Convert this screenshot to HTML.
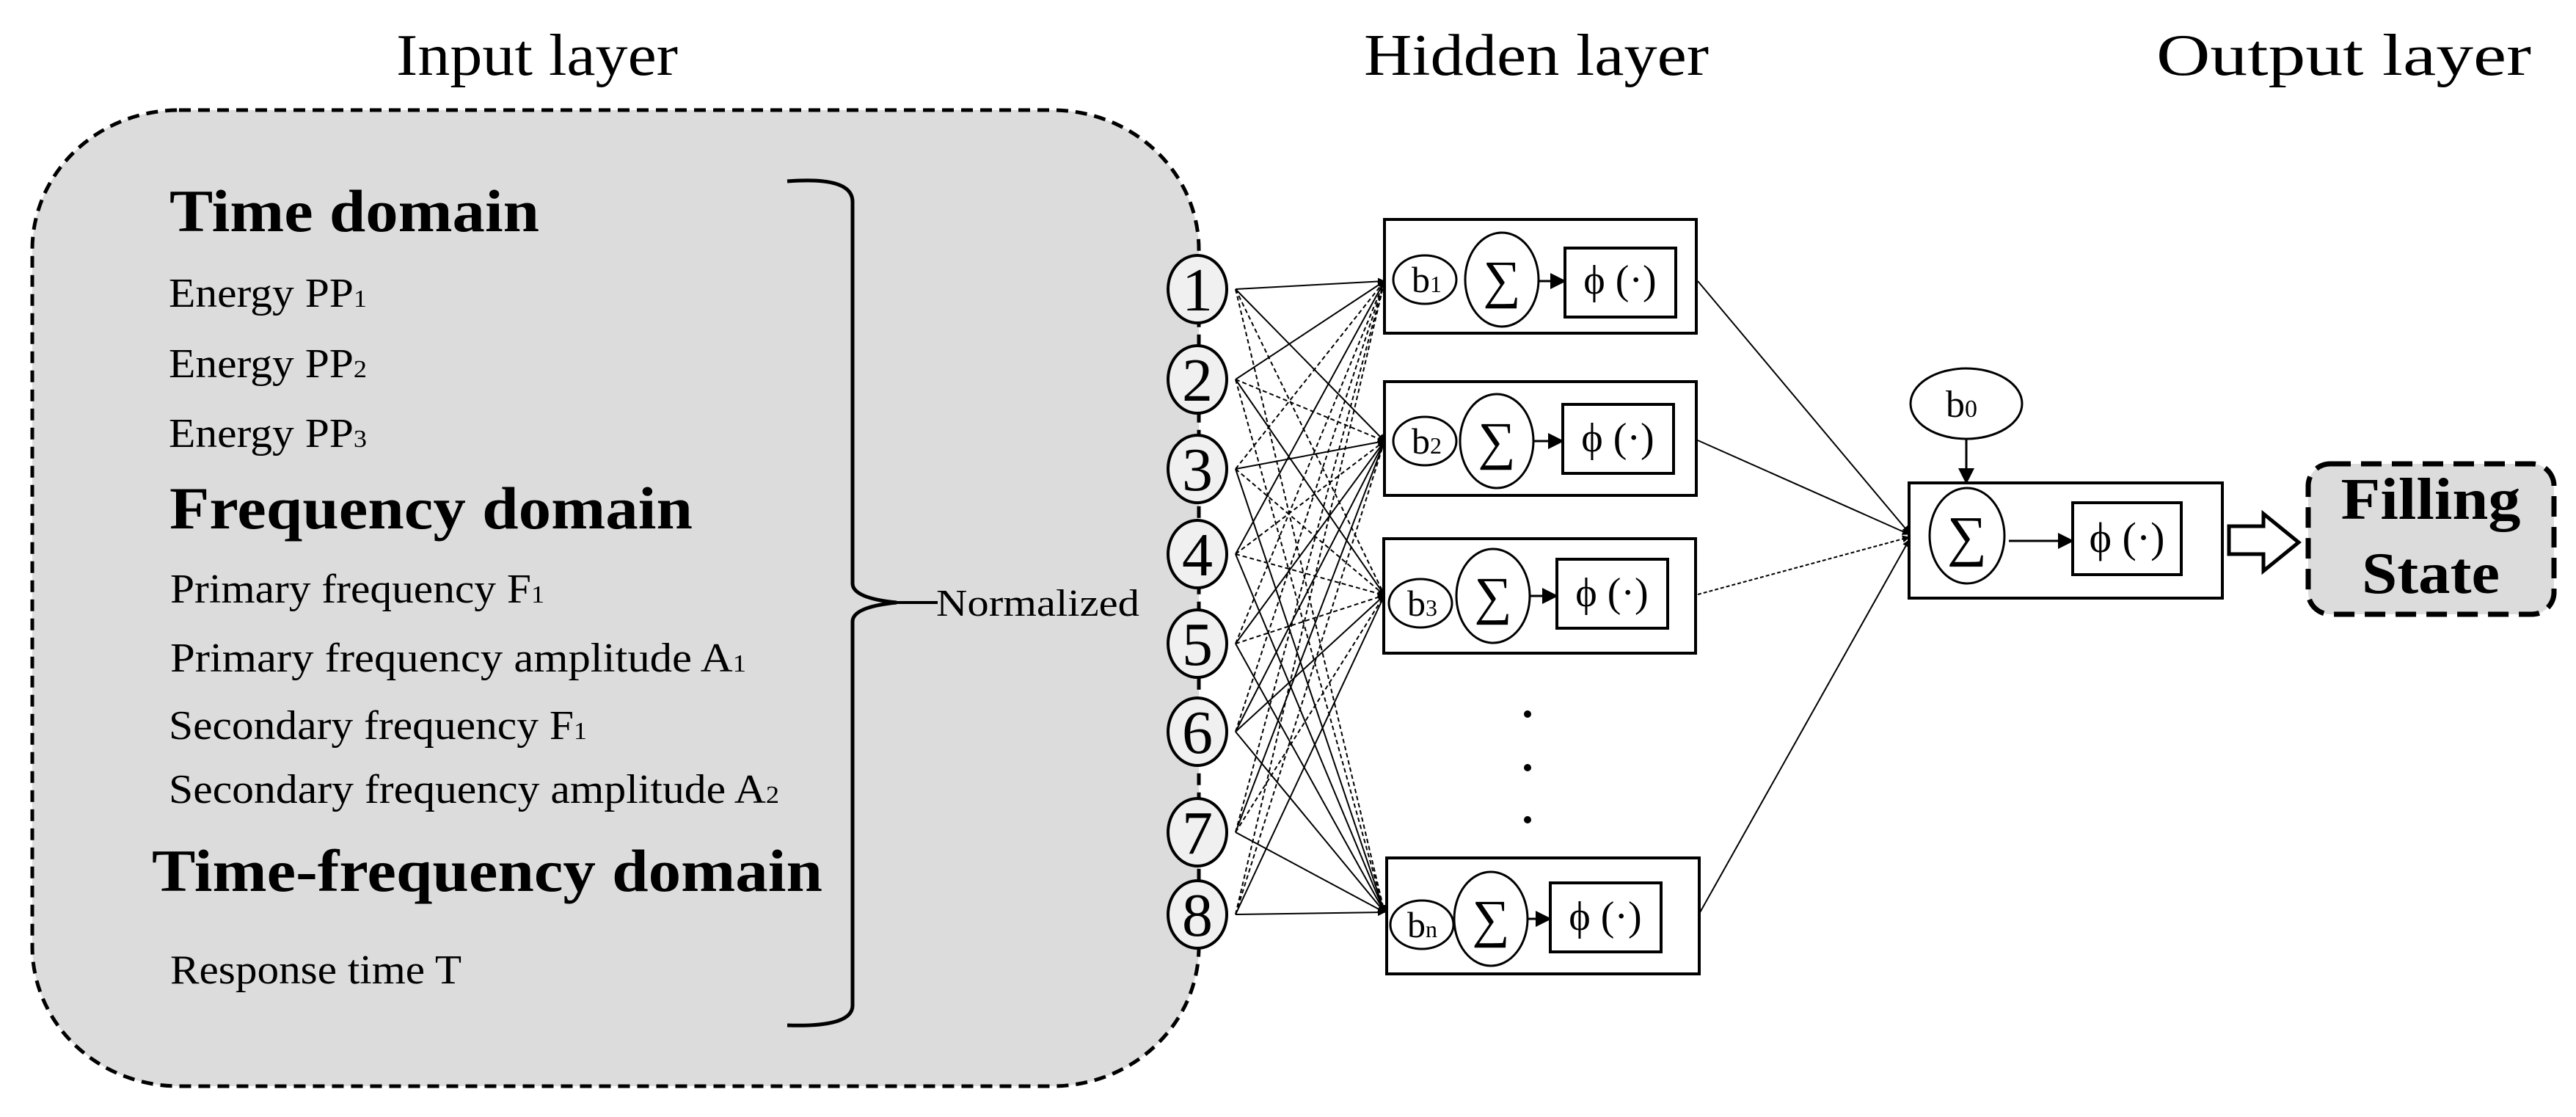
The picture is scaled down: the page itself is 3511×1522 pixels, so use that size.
<!DOCTYPE html>
<html><head><meta charset="utf-8"><style>
html,body{margin:0;padding:0;background:#fff;}
svg{display:block;}
text{font-family:"Liberation Serif",serif;fill:#000;}
</style></head><body>
<svg width="3511" height="1522" viewBox="0 0 3511 1522" xmlns="http://www.w3.org/2000/svg">
<defs>
<marker id="ah" markerWidth="10" markerHeight="10" refX="9" refY="5" orient="auto" markerUnits="userSpaceOnUse" viewBox="0 0 10 10">
<path d="M0,0 L10,5 L0,10 z" fill="#000"/></marker>
<marker id="ah2" markerWidth="22" markerHeight="22" refX="20" refY="11" orient="auto" markerUnits="userSpaceOnUse">
<path d="M0,0 L22,11 L0,22 z" fill="#000"/></marker>
</defs>

<!-- titles -->
<text x="540" y="102" font-size="80" textLength="384" lengthAdjust="spacingAndGlyphs">Input layer</text>
<text x="1859" y="102" font-size="80" textLength="470" lengthAdjust="spacingAndGlyphs">Hidden layer</text>
<text x="2939" y="102" font-size="80" textLength="511" lengthAdjust="spacingAndGlyphs">Output layer</text>

<!-- input grey box -->
<rect x="44" y="150" width="1590" height="1330" rx="200" ry="190" fill="#dcdcdc" stroke="#000" stroke-width="5" stroke-dasharray="16,10"/>

<text x="231" y="315" font-size="82" font-weight="bold" textLength="504" lengthAdjust="spacingAndGlyphs">Time domain</text>
<text x="230" y="418" font-size="56" textLength="270" lengthAdjust="spacingAndGlyphs">Energy PP<tspan font-size="34">1</tspan></text>
<text x="230" y="514" font-size="56" textLength="270" lengthAdjust="spacingAndGlyphs">Energy PP<tspan font-size="34">2</tspan></text>
<text x="230" y="609" font-size="56" textLength="270" lengthAdjust="spacingAndGlyphs">Energy PP<tspan font-size="34">3</tspan></text>
<text x="231" y="720" font-size="82" font-weight="bold" textLength="713" lengthAdjust="spacingAndGlyphs">Frequency domain</text>
<text x="232" y="821" font-size="56" textLength="510" lengthAdjust="spacingAndGlyphs">Primary frequency F<tspan font-size="34">1</tspan></text>
<text x="232" y="915" font-size="56" textLength="785" lengthAdjust="spacingAndGlyphs">Primary frequency amplitude  A<tspan font-size="34">1</tspan></text>
<text x="230" y="1007" font-size="56" textLength="570" lengthAdjust="spacingAndGlyphs">Secondary frequency F<tspan font-size="34">1</tspan></text>
<text x="230" y="1094" font-size="56" textLength="832" lengthAdjust="spacingAndGlyphs">Secondary frequency amplitude A<tspan font-size="34">2</tspan></text>
<text x="207" y="1214" font-size="82" font-weight="bold" textLength="914" lengthAdjust="spacingAndGlyphs">Time-frequency domain</text>
<text x="232" y="1340" font-size="56" textLength="397" lengthAdjust="spacingAndGlyphs">Response time T</text>

<!-- brace -->
<path d="M1073,247 Q1162,240 1162,275 L1162,795 Q1162,815 1222,821 Q1162,827 1162,847 L1162,1370 Q1162,1400 1073,1397" fill="none" stroke="#000" stroke-width="5"/>
<line x1="1222" y1="821" x2="1278" y2="821" stroke="#000" stroke-width="4"/>
<text x="1276" y="839" font-size="52" textLength="277" lengthAdjust="spacingAndGlyphs">Normalized</text>

<!-- connections input->hidden -->
<g stroke="#000" stroke-width="2" fill="none" marker-end="url(#ah)">
<line x1="1684" y1="394" x2="1887" y2="383"/>
<line x1="1684" y1="394" x2="1887" y2="601"/>
<line x1="1684" y1="394" x2="1887" y2="811" stroke-dasharray="6,4"/>
<line x1="1684" y1="394" x2="1887" y2="1243" stroke-dasharray="6,4"/>
<line x1="1684" y1="517" x2="1887" y2="383"/>
<line x1="1684" y1="517" x2="1887" y2="601" stroke-dasharray="6,4"/>
<line x1="1684" y1="517" x2="1887" y2="811"/>
<line x1="1684" y1="517" x2="1887" y2="1243" stroke-dasharray="6,4"/>
<line x1="1684" y1="639" x2="1887" y2="383" stroke-dasharray="6,4"/>
<line x1="1684" y1="639" x2="1887" y2="601"/>
<line x1="1684" y1="639" x2="1887" y2="811" stroke-dasharray="6,4"/>
<line x1="1684" y1="639" x2="1887" y2="1243"/>
<line x1="1684" y1="755" x2="1887" y2="383"/>
<line x1="1684" y1="755" x2="1887" y2="601" stroke-dasharray="6,4"/>
<line x1="1684" y1="755" x2="1887" y2="811" stroke-dasharray="6,4"/>
<line x1="1684" y1="755" x2="1887" y2="1243"/>
<line x1="1684" y1="877" x2="1887" y2="383" stroke-dasharray="6,4"/>
<line x1="1684" y1="877" x2="1887" y2="601"/>
<line x1="1684" y1="877" x2="1887" y2="811" stroke-dasharray="6,4"/>
<line x1="1684" y1="877" x2="1887" y2="1243"/>
<line x1="1684" y1="997" x2="1887" y2="383" stroke-dasharray="6,4"/>
<line x1="1684" y1="997" x2="1887" y2="601"/>
<line x1="1684" y1="997" x2="1887" y2="811"/>
<line x1="1684" y1="997" x2="1887" y2="1243"/>
<line x1="1684" y1="1134" x2="1887" y2="383" stroke-dasharray="6,4"/>
<line x1="1684" y1="1134" x2="1887" y2="601"/>
<line x1="1684" y1="1134" x2="1887" y2="811" stroke-dasharray="6,4"/>
<line x1="1684" y1="1134" x2="1887" y2="1243"/>
<line x1="1684" y1="1246" x2="1887" y2="383" stroke-dasharray="6,4"/>
<line x1="1684" y1="1246" x2="1887" y2="601" stroke-dasharray="6,4"/>
<line x1="1684" y1="1246" x2="1887" y2="811"/>
<line x1="1684" y1="1246" x2="1887" y2="1243"/>
</g>

<!-- input circles -->
<g fill="#f0f0f0" stroke="#000" stroke-width="4">
<ellipse cx="1632" cy="394" rx="40" ry="46"/>
<ellipse cx="1632" cy="517" rx="40" ry="46"/>
<ellipse cx="1632" cy="639" rx="40" ry="46"/>
<ellipse cx="1632" cy="755" rx="40" ry="46"/>
<ellipse cx="1632" cy="877" rx="40" ry="46"/>
<ellipse cx="1632" cy="997" rx="40" ry="46"/>
<ellipse cx="1632" cy="1134" rx="40" ry="46"/>
<ellipse cx="1632" cy="1246" rx="40" ry="46"/>
</g>
<g font-size="84" text-anchor="middle">
<text x="1632" y="423">1</text><text x="1632" y="546">2</text><text x="1632" y="668">3</text><text x="1632" y="784">4</text>
<text x="1632" y="906">5</text><text x="1632" y="1026">6</text><text x="1632" y="1163">7</text><text x="1632" y="1275">8</text>
</g>

<!-- hidden boxes -->
<g>
<rect x="1887" y="299" width="425" height="155" fill="#fff" stroke="#000" stroke-width="4"/>
<ellipse cx="1942" cy="381" rx="43" ry="33" fill="#fff" stroke="#000" stroke-width="3"/>
<text x="1924" y="398" font-size="50">b<tspan font-size="32">1</tspan></text>
<ellipse cx="2047" cy="381" rx="50" ry="64" fill="#fff" stroke="#000" stroke-width="3"/>
<text x="2047" y="405" font-size="72" text-anchor="middle">∑</text>
<line x1="2097" y1="383" x2="2133" y2="383" stroke="#000" stroke-width="3" marker-end="url(#ah2)"/>
<rect x="2133" y="338" width="151" height="94" fill="#fff" stroke="#000" stroke-width="4"/>
<text x="2208" y="400" font-size="56" text-anchor="middle">ϕ (·)</text>
</g>
<g>
<rect x="1887" y="520" width="425" height="155" fill="#fff" stroke="#000" stroke-width="4"/>
<ellipse cx="1942" cy="601" rx="43" ry="33" fill="#fff" stroke="#000" stroke-width="3"/>
<text x="1924" y="618" font-size="50">b<tspan font-size="32">2</tspan></text>
<ellipse cx="2040" cy="601" rx="50" ry="64" fill="#fff" stroke="#000" stroke-width="3"/>
<text x="2040" y="625" font-size="72" text-anchor="middle">∑</text>
<line x1="2090" y1="601" x2="2130" y2="601" stroke="#000" stroke-width="3" marker-end="url(#ah2)"/>
<rect x="2130" y="551" width="151" height="94" fill="#fff" stroke="#000" stroke-width="4"/>
<text x="2205" y="615" font-size="56" text-anchor="middle">ϕ (·)</text>
</g>
<g>
<rect x="1886" y="734" width="425" height="156" fill="#fff" stroke="#000" stroke-width="4"/>
<ellipse cx="1936" cy="822" rx="43" ry="33" fill="#fff" stroke="#000" stroke-width="3"/>
<text x="1918" y="839" font-size="50">b<tspan font-size="32">3</tspan></text>
<ellipse cx="2035" cy="812" rx="50" ry="64" fill="#fff" stroke="#000" stroke-width="3"/>
<text x="2035" y="836" font-size="72" text-anchor="middle">∑</text>
<line x1="2085" y1="812" x2="2122" y2="812" stroke="#000" stroke-width="3" marker-end="url(#ah2)"/>
<rect x="2122" y="762" width="151" height="94" fill="#fff" stroke="#000" stroke-width="4"/>
<text x="2197" y="826" font-size="56" text-anchor="middle">ϕ (·)</text>
</g>
<g fill="#000">
<circle cx="2082" cy="973" r="5"/><circle cx="2082" cy="1046" r="5"/><circle cx="2082" cy="1117" r="5"/>
</g>
<g>
<rect x="1890" y="1169" width="426" height="158" fill="#fff" stroke="#000" stroke-width="4"/>
<ellipse cx="1938" cy="1260" rx="43" ry="33" fill="#fff" stroke="#000" stroke-width="3"/>
<text x="1918" y="1277" font-size="50">b<tspan font-size="32">n</tspan></text>
<ellipse cx="2032" cy="1252" rx="50" ry="64" fill="#fff" stroke="#000" stroke-width="3"/>
<text x="2032" y="1276" font-size="72" text-anchor="middle">∑</text>
<line x1="2082" y1="1252" x2="2113" y2="1252" stroke="#000" stroke-width="3" marker-end="url(#ah2)"/>
<rect x="2113" y="1203" width="151" height="94" fill="#fff" stroke="#000" stroke-width="4"/>
<text x="2188" y="1267" font-size="56" text-anchor="middle">ϕ (·)</text>
</g>

<!-- hidden -> output -->
<g stroke="#000" stroke-width="2" fill="none" marker-end="url(#ah)">
<line x1="2314" y1="383" x2="2602" y2="726"/>
<line x1="2314" y1="600" x2="2602" y2="728"/>
<line x1="2314" y1="810" x2="2602" y2="732" stroke-dasharray="5,3"/>
<line x1="2316" y1="1245" x2="2602" y2="736"/>
</g>

<!-- output -->
<ellipse cx="2680" cy="550" rx="76" ry="48" fill="#fff" stroke="#000" stroke-width="3"/>
<text x="2652" y="568" font-size="52">b<tspan font-size="34">0</tspan></text>
<line x1="2680" y1="598" x2="2680" y2="658" stroke="#000" stroke-width="3" marker-end="url(#ah2)"/>
<rect x="2602" y="658" width="427" height="157" fill="#fff" stroke="#000" stroke-width="4"/>
<ellipse cx="2681" cy="730" rx="51" ry="65" fill="#fff" stroke="#000" stroke-width="3"/>
<text x="2681" y="756" font-size="76" text-anchor="middle">∑</text>
<line x1="2738" y1="737" x2="2825" y2="737" stroke="#000" stroke-width="3" marker-end="url(#ah2)"/>
<rect x="2825" y="685" width="148" height="98" fill="#fff" stroke="#000" stroke-width="4"/>
<text x="2899" y="752" font-size="58" text-anchor="middle">ϕ (·)</text>
<path d="M3038,717 L3085,717 L3085,700 L3133,739 L3085,778 L3085,755 L3038,755 z" fill="#fff" stroke="#000" stroke-width="5"/>
<rect x="3146" y="632" width="335" height="205" rx="30" ry="30" fill="#dcdcdc" stroke="#000" stroke-width="7" stroke-dasharray="28,14"/>
<text x="3313" y="707" font-size="80" font-weight="bold" text-anchor="middle" textLength="245" lengthAdjust="spacingAndGlyphs">Filling</text>
<text x="3313" y="808" font-size="80" font-weight="bold" text-anchor="middle" textLength="188" lengthAdjust="spacingAndGlyphs">State</text>
</svg>
</body></html>
